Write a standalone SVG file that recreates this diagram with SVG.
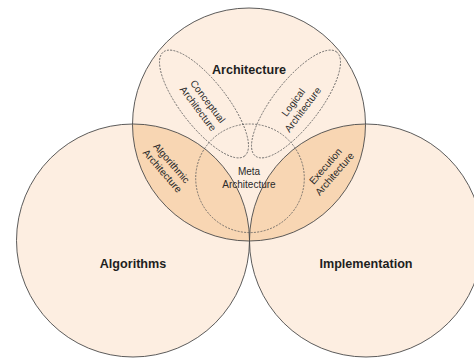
<svg xmlns="http://www.w3.org/2000/svg" width="474" height="358" viewBox="0 0 474 358">
  <style>
    .set { fill: #fdeee1; }
    .lens { fill: #f8d6b3; }
    .rim { fill: none; stroke: #4a4a4a; stroke-width: 0.9; }
    .sub { fill: none; stroke: #5a5a5a; stroke-width: 0.8; stroke-dasharray: 2 1.3; }
    .big { font-family: "Liberation Sans", Arial, sans-serif; font-size: 12.6px; font-weight: bold; fill: #1e1e1e; text-anchor: middle; }
    .small { font-family: "Liberation Sans", Arial, sans-serif; font-size: 10px; fill: #2a2a2a; text-anchor: middle; }
  </style>
  <defs>
    <clipPath id="inLeft"><circle cx="133" cy="240.5" r="116.5"/></clipPath>
    <clipPath id="inRight"><circle cx="366" cy="240.5" r="116.5"/></clipPath>
  </defs>

  <rect width="474" height="358" fill="#ffffff"/>

  <!-- set fills -->
  <g id="fills">
    <circle class="set" cx="249" cy="124.5" r="116.5"/>
    <circle class="set" cx="133" cy="240.5" r="116.5"/>
    <circle class="set" cx="366" cy="240.5" r="116.5"/>
    <!-- overlaps of Architecture with the two lower sets -->
    <circle class="lens" cx="249" cy="124.5" r="116.5" clip-path="url(#inLeft)"/>
    <circle class="lens" cx="249" cy="124.5" r="116.5" clip-path="url(#inRight)"/>
  </g>

  <g id="architecture">
    <circle class="rim" cx="249" cy="124.5" r="116.5"/>
    <text class="big" x="249" y="74">Architecture</text>
  </g>

  <g id="algorithms">
    <circle class="rim" cx="133" cy="240.5" r="116.5"/>
    <text class="big" x="133" y="268">Algorithms</text>
  </g>

  <g id="implementation">
    <circle class="rim" cx="366" cy="240.5" r="116.5"/>
    <text class="big" x="366" y="268">Implementation</text>
  </g>

  <g id="conceptual-architecture">
    <ellipse class="sub" cx="0" cy="0" rx="66" ry="23" transform="translate(204 104) rotate(52)"/>
    <g transform="translate(203 105) rotate(53)">
      <text class="small" x="0" y="-2.5">Conceptual</text>
      <text class="small" x="0" y="9.5">Architecture</text>
    </g>
  </g>

  <g id="logical-architecture">
    <ellipse class="sub" cx="0" cy="0" rx="66" ry="23" transform="translate(296 104) rotate(-52)"/>
    <g transform="translate(298 106) rotate(-53)">
      <text class="small" x="0" y="-2.5">Logical</text>
      <text class="small" x="0" y="9.5">Architecture</text>
    </g>
  </g>

  <g id="meta-architecture">
    <circle class="sub" cx="250" cy="178.3" r="54.3"/>
    <text class="small" x="249" y="175">Meta</text>
    <text class="small" x="249" y="187.5">Architecture</text>
  </g>

  <g id="algorithmic-architecture">
    <g transform="translate(167 167) rotate(49)">
      <text class="small" x="0" y="-2.5">Algorithmic</text>
      <text class="small" x="0" y="9.5">Architecture</text>
    </g>
  </g>

  <g id="execution-architecture">
    <g transform="translate(330 170) rotate(-49)">
      <text class="small" x="0" y="-2.5">Execution</text>
      <text class="small" x="0" y="9.5">Architecture</text>
    </g>
  </g>
</svg>
